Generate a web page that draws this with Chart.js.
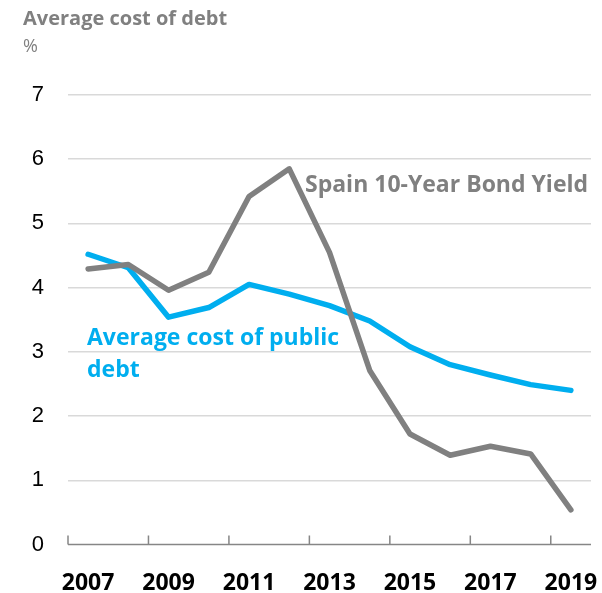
<!DOCTYPE html>
<html>
<head>
<meta charset="utf-8">
<script src="https://cdn.jsdelivr.net/npm/chart.js@4.4.0/dist/chart.umd.min.js"></script>
<style>
  html, body { margin: 0; padding: 0; background: #ffffff; }
  #wrap { width: 602px; height: 593px; position: relative; }
</style>
</head>
<body>
<div id="wrap"><canvas id="c" width="602" height="593"></canvas></div>
<script>
// Yearly series, %
const years = ['2007', '2008', '2009', '2010', '2011', '2012', '2013', '2014', '2015', '2016', '2017', '2018', '2019'];
const bondYield = [4.29, 4.36, 3.96, 4.24, 5.42, 5.85, 4.55, 2.71, 1.72, 1.39, 1.53, 1.41, 0.54];
const publicDebtCost = [4.52, 4.31, 3.54, 3.69, 4.05, 3.90, 3.72, 3.48, 3.08, 2.80, 2.64, 2.49, 2.40];
const yTicks = [0, 1, 2, 3, 4, 5, 6, 7];

const GREY = '#808080';
const BLUE = '#00AEEF';
const AXIS = '#868686';
const TEXT_FONT = '"Open Sans", Lato, sans-serif';

// Bottom axis line with a mark every second category boundary
const axisPlugin = {
  id: 'axisMarks',
  beforeDatasetsDraw(chart) {
    const { ctx, scales: { x, y } } = chart;
    const y0 = y.getPixelForValue(yTicks[0]);
    const step = x.getPixelForValue(1) - x.getPixelForValue(0);
    const left = x.getPixelForValue(0) - step / 2;
    const right = x.getPixelForValue(years.length - 1) + step / 2;
    ctx.save();
    ctx.strokeStyle = AXIS;
    ctx.lineWidth = 1.5;
    ctx.beginPath();
    ctx.moveTo(left, y0);
    ctx.lineTo(right, y0);
    for (let i = 0; i < years.length; i += 2) {
      const px = x.getPixelForValue(i) - step / 2;
      ctx.moveTo(px, y0);
      ctx.lineTo(px, y0 - 9);
    }
    ctx.stroke();
    ctx.restore();
  }
};

// Chart title, unit and series labels
const textPlugin = {
  id: 'labels',
  afterDraw(chart) {
    const { ctx } = chart;
    ctx.save();
    ctx.textAlign = 'left';
    ctx.textBaseline = 'alphabetic';
    ctx.fillStyle = GREY;
    ctx.font = 'bold 20px ' + TEXT_FONT;
    ctx.fillText('Average cost of debt', 23, 25);
    ctx.font = '18px ' + TEXT_FONT;
    ctx.fillText('%', 23, 52);

    ctx.font = 'bold 23px ' + TEXT_FONT;
    ctx.fillText('Spain 10-Year Bond Yield', 305, 192);

    ctx.fillStyle = BLUE;
    ctx.fillText('Average cost of public', 87, 345);
    ctx.fillText('debt', 87, 377);
    ctx.restore();
  }
};

new Chart(document.getElementById('c'), {
  type: 'line',
  data: {
    labels: years,
    datasets: [
      {
        label: 'Spain 10-Year Bond Yield',
        data: bondYield,
        borderColor: GREY,
        borderWidth: 5.5,
        pointRadius: 0,
        tension: 0,
        borderJoinStyle: 'round',
        borderCapStyle: 'round',
        fill: false
      },
      {
        label: 'Average cost of public debt',
        data: publicDebtCost,
        borderColor: BLUE,
        borderWidth: 5.5,
        pointRadius: 0,
        tension: 0,
        borderJoinStyle: 'round',
        borderCapStyle: 'round',
        fill: false
      }
    ]
  },
  options: {
    responsive: false,
    animation: false,
    devicePixelRatio: 1,
    layout: { padding: { top: 95, right: 11, left: 0, bottom: 0 } },
    plugins: {
      legend: { display: false },
      tooltip: { enabled: false },
      title: { display: false }
    },
    scales: {
      x: {
        type: 'category',
        offset: true,
        grid: { display: false, drawTicks: false },
        border: { display: false },
        ticks: {
          autoSkip: false,
          maxRotation: 0,
          minRotation: 0,
          padding: 25,
          color: '#000000',
          font: { family: TEXT_FONT, weight: 'bold', size: 23 },
          callback: (value, index) => (index % 2 === 0 ? years[index] : '')
        },
        afterFit(scale) {
          scale.height = 48.5;
          scale.paddingLeft = 0;
          scale.paddingRight = 0;
        }
      },
      y: {
        min: yTicks[0],
        max: yTicks[yTicks.length - 1],
        afterBuildTicks(scale) { scale.ticks = yTicks.map(v => ({ value: v })); },
        grid: {
          drawTicks: false,
          lineWidth: 1.5,
          color: (c) => (c.tick && c.tick.value === 0 ? 'rgba(0,0,0,0)' : '#d9d9d9')
        },
        border: { display: false },
        ticks: {
          padding: 24,
          color: '#000000',
          font: { family: '"Liberation Sans", Arial, sans-serif', size: 22 }
        },
        afterFit(scale) {
          scale.width = 68;
          scale.paddingTop = 0;
          scale.paddingBottom = 0;
        }
      }
    }
  },
  plugins: [axisPlugin, textPlugin]
});
</script>
</body>
</html>
